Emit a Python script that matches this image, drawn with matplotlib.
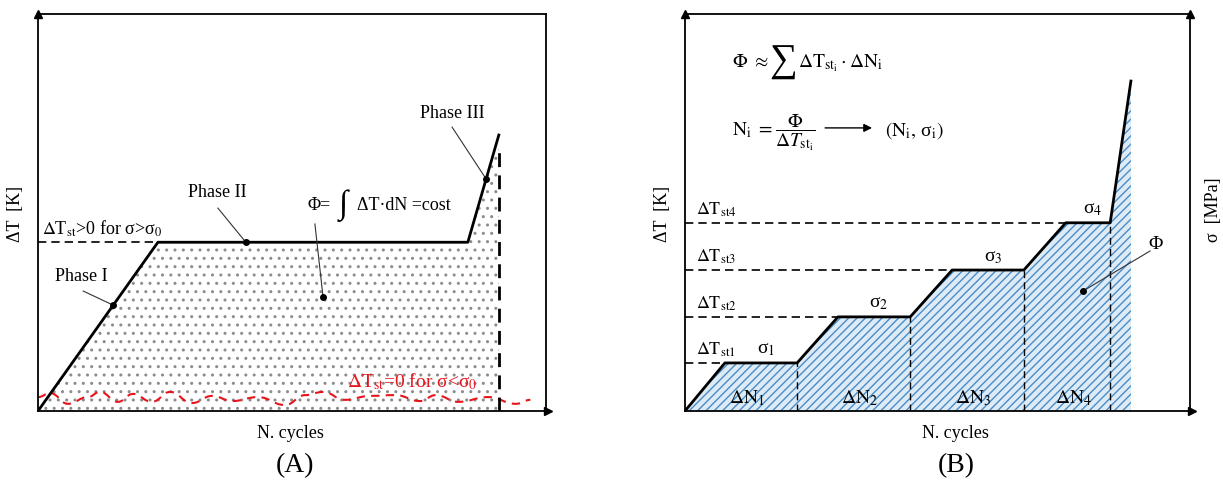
import numpy as np
import matplotlib
matplotlib.use("Agg")
from matplotlib import pyplot as plt
from matplotlib.path import Path
from matplotlib.patches import PathPatch

plt.rcParams['font.family'] = ['Liberation Serif', 'DejaVu Serif']
plt.rcParams['mathtext.fontset'] = 'stix'
plt.rcParams['hatch.linewidth'] = 1.0

# ---- panel A: the three phases of the temperature curve ----
phase_N = [0, 23.6, 84.6, 90.7]
phase_dT = [0, 42.5, 42.5, 69.5]
failure_top = 66.5

# red "no heating" wavy line below the fatigue limit
wave_N = [0, 2.4, 5.9, 9.8, 12.2, 15.7, 18.7, 22.4, 26.0, 30.3, 34.3, 38.2, 43.3,
          48.6, 52.6, 56.1, 60.4, 65.4, 70.3, 75.2, 78.3, 82.7, 88.6, 94.1, 96.9]
wave_dT = [3.5, 4.5, 1.8, 3.5, 4.8, 2.3, 4.3, 2.3, 4.8, 2.0, 3.8, 2.5, 3.5,
           1.5, 4.0, 4.8, 2.8, 3.8, 4.0, 2.5, 4.0, 2.3, 3.5, 1.8, 2.8]

# ---- panel B: step loading ----
dT_st = [12.1, 23.7, 35.5, 47.4]
ramp_end = [7.9, 30.3, 52.9, 75.4]
block_end = [22.2, 44.6, 67.1, 84.2]
final_N, final_dT = 88.3, 83.1
sigma_labels = ['σ$_1$', 'σ$_2$', 'σ$_3$', 'σ$_4$']
st_labels = [r'$\Delta\mathrm{T}_{\mathrm{st1}}$', r'$\Delta\mathrm{T}_{\mathrm{st2}}$',
             r'$\Delta\mathrm{T}_{\mathrm{st3}}$', r'$\Delta\mathrm{T}_{\mathrm{st4}}$']
dN_labels = [r'$\Delta\mathrm{N}_1$', r'$\Delta\mathrm{N}_2$',
             r'$\Delta\mathrm{N}_3$', r'$\Delta\mathrm{N}_4$']


def frame(ax, right_arrow=False):
    ax.set_xlim(0, 100)
    ax.set_ylim(0, 100)
    ax.set_xticks([])
    ax.set_yticks([])
    for s in ax.spines.values():
        s.set_linewidth(1.3)
    ax.plot(0, 1.0, marker='^', color='k', markersize=6, transform=ax.transAxes, clip_on=False)
    ax.plot(1.004, 0, marker='>', color='k', markersize=6, transform=ax.transAxes, clip_on=False)
    if right_arrow:
        ax.plot(1, 1.0, marker='^', color='k', markersize=6, transform=ax.transAxes, clip_on=False)


def pointer(ax, text_xy, dot_xy):
    ax.plot([text_xy[0], dot_xy[0]], [text_xy[1], dot_xy[1]], color='#333333', lw=0.8)
    ax.plot(*dot_xy, 'o', color='k', markersize=4)


fig = plt.figure(figsize=(12.23, 4.81), dpi=100)
axA = fig.add_axes([0.0311, 0.1435, 0.4154, 0.8254])
axB = fig.add_axes([0.5601, 0.1435, 0.4129, 0.8254])

# ================= (A) =================
frame(axA)
axA.fill_between(phase_N, phase_dT, facecolor='white', edgecolor='#8c8c8c', hatch='..', lw=0)
axA.plot(phase_N, phase_dT, color='k', lw=2)
axA.plot([0, phase_N[1]], [phase_dT[1]] * 2, color='k', lw=1.2, dashes=(5, 3))
axA.plot([phase_N[-1]] * 2, [0, failure_top], color='k', lw=2, dashes=(5, 3))

verts = [(wave_N[0], wave_dT[0])]
codes = [Path.MOVETO]
for (x0, y0), (x1, y1) in zip(zip(wave_N[:-1], wave_dT[:-1]), zip(wave_N[1:], wave_dT[1:])):
    dx = x1 - x0
    verts += [(x0 + 0.45 * dx, y0), (x1 - 0.45 * dx, y1), (x1, y1)]
    codes += [Path.CURVE4] * 3
axA.add_patch(PathPatch(Path(verts, codes), fill=False, edgecolor='#e8141c', lw=1.5,
                        linestyle=(0, (4, 3))))

axA.text(0.8, 43.5, r'$\Delta$T$_{\mathrm{st}}$>0 for σ>σ$_0$', fontsize=13, va='bottom')
axA.text(73.6, 7.6, r'$\Delta$T$_{\mathrm{st}}$=0 for σ<σ$_0$', fontsize=14, color='#e8141c',
         ha='center', va='center')

x1 = 14.8
pointer(axA, (8.9, 30.2), (x1, np.interp(x1, phase_N, phase_dT)))
axA.text(8.5, 34.0, 'Phase I', fontsize=13, ha='center', va='center')
pointer(axA, (35.4, 51.1), (40.9, phase_dT[1]))
axA.text(35.2, 55.2, 'Phase II', fontsize=13, ha='center', va='center')
x3 = 88.2
pointer(axA, (81.5, 71.5), (x3, np.interp(x3, phase_N, phase_dT)))
axA.text(81.5, 75.3, 'Phase III', fontsize=13, ha='center', va='center')
pointer(axA, (54.5, 47.1), (56.1, 28.7))
axA.text(53.0, 52.1, 'Φ=', fontsize=13, va='center')
axA.text(60.0, 51.9, '∫', fontsize=24, ha='center', va='center')
axA.text(62.8, 52.1, 'ΔT·dN =cost', fontsize=13, va='center')

axA.text(-4.5, 50, 'ΔT  [K]', fontsize=13, rotation=90, ha='center', va='center')
axA.text(49.6, -5.3, 'N. cycles', fontsize=13, ha='center', va='center')
axA.text(50.5, -13.6, '(A)', fontsize=20, ha='center', va='center', clip_on=False)

# ================= (B) =================
frame(axB, right_arrow=True)
curve_N = [0]
curve_dT = [0]
for lvl, r_end, b_end in zip(dT_st, ramp_end, block_end):
    curve_N += [r_end, b_end]
    curve_dT += [lvl, lvl]
curve_N.append(final_N)
curve_dT.append(final_dT)

axB.fill_between(curve_N, curve_dT, facecolor='#dcebf6', edgecolor='#4a8cc6', hatch='////', lw=0)
axB.plot(curve_N, curve_dT, color='k', lw=2)

block_start = [0] + block_end[:-1]
for i, (lvl, r_end, b_end) in enumerate(zip(dT_st, ramp_end, block_end)):
    axB.plot([0, r_end], [lvl, lvl], color='k', lw=1.2, dashes=(5, 3))
    axB.plot([b_end, b_end], [0, lvl], color='k', lw=1, dashes=(5, 3))
    axB.text(2.2, lvl + 3.6, st_labels[i], fontsize=13, va='center')
    axB.text((r_end + b_end) / 2 + 1.0, lvl + 3.6, sigma_labels[i], fontsize=14,
             ha='center', va='center')
    axB.text((block_start[i] + b_end) / 2 + 1.2, 3.6, dN_labels[i], fontsize=14,
             ha='center', va='center')

pointer(axB, (92.1, 40.3), (78.8, 30.2))
axB.text(93.1, 42.3, 'Φ', fontsize=14, ha='center', va='center')

# energy formulas
axB.text(9.3, 87.9, r'$\Phi\ \approx$', fontsize=14, va='center')
axB.text(19.4, 88.2, '∑', fontsize=28, ha='center', va='center')
axB.text(22.4, 87.9, r'$\Delta\mathrm{T}_{\mathrm{st}_{\mathrm{i}}}\cdot\Delta\mathrm{N}_{\mathrm{i}}$',
         fontsize=14, va='center')
axB.text(9.3, 71.0, r'$\mathrm{N_i}\ =$', fontsize=14, va='center')
axB.text(21.8, 70.3, r'$\dfrac{\Phi}{\Delta T_{\mathrm{st_i}}}$', fontsize=14,
         ha='center', va='center')
axB.annotate('', xy=(37.6, 71.3), xytext=(27.2, 71.3),
             arrowprops=dict(arrowstyle='-|>', color='k', lw=1, mutation_scale=12))
axB.text(39.6, 71.0, r'$(\mathrm{N_i},\,$σ$_\mathrm{i})$', fontsize=14, va='center')

axB.text(-4.4, 50, 'ΔT  [K]', fontsize=13, rotation=90, ha='center', va='center')
axB.text(104.6, 51, 'σ  [MPa]', fontsize=13, rotation=90, ha='center', va='center', clip_on=False)
axB.text(53.5, -5.3, 'N. cycles', fontsize=13, ha='center', va='center')
axB.text(53.8, -13.6, '(B)', fontsize=20, ha='center', va='center', clip_on=False)

fig.savefig('out.png', dpi=100)
